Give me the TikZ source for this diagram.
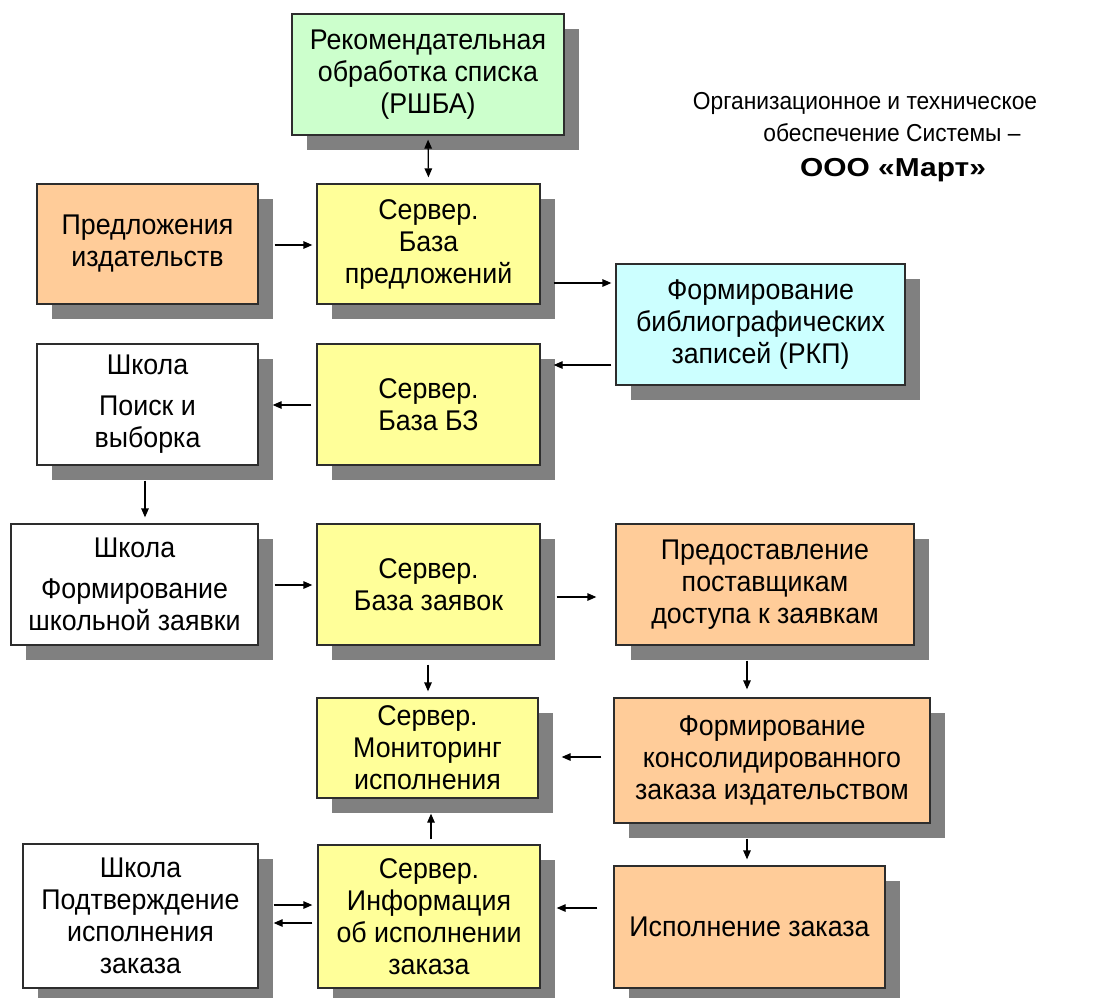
\documentclass[tikz,border=0pt]{standalone}
\usepackage{fontspec}
\setmainfont{Liberation Sans}
\newfontfamily\boxfont{Liberation Sans}[FakeStretch=0.94]
\newfontfamily\titlefont{Liberation Sans}[FakeStretch=0.93]
\newfontfamily\titleboldfont{Liberation Sans}[FakeStretch=1.15]
\usetikzlibrary{arrows.meta,shadows}

\definecolor{boxgreen}{RGB}{204,255,204}
\definecolor{boxorange}{RGB}{255,204,153}
\definecolor{boxyellow}{RGB}{255,255,153}
\definecolor{boxcyan}{RGB}{204,255,255}
\definecolor{shadowgray}{RGB}{128,128,128}
\definecolor{edgegray}{RGB}{45,45,45}

\begin{document}
\begin{tikzpicture}[x=1pt,y=-1pt,
  box/.style={draw=edgegray, line width=1.3pt, align=center, inner sep=0pt,
    font=\boxfont\fontsize{28.5}{32}\selectfont,
    drop shadow={shadow xshift=15pt, shadow yshift=-15pt, fill=shadowgray, opacity=1, draw=none}},
  arr/.style={line width=1.3pt, -{Triangle[length=9pt,width=7.5pt]}},
  darr/.style={line width=1.3pt, {Triangle[length=9pt,width=7.5pt]}-{Triangle[length=9pt,width=7.5pt]}},
  titletext/.style={inner sep=0pt, font=\titlefont\fontsize{24.5}{28}\selectfont},
]
\useasboundingbox (0,0) rectangle (1099,997);

% boxes
\node[box, fill=boxgreen, minimum width=272pt, minimum height=121pt] (rshba) at (428,74.5)
  {Рекомендательная\\обработка списка\\(РШБА)};
\node[box, fill=boxorange, minimum width=221pt, minimum height=120pt] (pred) at (147.5,244)
  {Предложения\\издательств};
\node[box, fill=boxyellow, minimum width=223pt, minimum height=120pt] (srv1) at (428.5,244)
  {Сервер.\\База\\предложений};
\node[box, fill=boxcyan, minimum width=289pt, minimum height=121pt] (bib) at (760.5,324.5)
  {Формирование\\библиографических\\записей (РКП)};
\node[box, fill=white, minimum width=221pt, minimum height=121pt] (sch1) at (147.5,404.5)
  {Школа\\[9pt]Поиск и\\выборка};
\node[box, fill=boxyellow, minimum width=223pt, minimum height=121pt] (srv2) at (428.5,404.5)
  {Сервер.\\База БЗ};
\node[box, fill=white, minimum width=247pt, minimum height=121pt] (sch2) at (134.5,584.5)
  {Школа\\[9pt]Формирование\\школьной заявки};
\node[box, fill=boxyellow, minimum width=223pt, minimum height=121pt] (srv3) at (428.5,584.5)
  {Сервер.\\База заявок};
\node[box, fill=boxorange, minimum width=298pt, minimum height=121pt] (prov) at (765,584.5)
  {Предоставление\\поставщикам\\доступа к заявкам};
\node[box, fill=boxyellow, minimum width=221pt, minimum height=100pt] (mon) at (427.5,748)
  {Сервер.\\Мониторинг\\исполнения};
\node[box, fill=boxorange, minimum width=316pt, minimum height=125pt] (cons) at (772,760.5)
  {Формирование\\консолидированного\\заказа издательством};
\node[box, fill=white, minimum width=235pt, minimum height=144pt] (sch3) at (140.5,916)
  {Школа\\Подтверждение\\исполнения\\заказа};
\node[box, fill=boxyellow, minimum width=222pt, minimum height=143pt] (srv4) at (429,916.5)
  {Сервер.\\Информация\\об исполнении\\заказа};
\node[box, fill=boxorange, minimum width=271pt, minimum height=122pt] (isp) at (749.5,927)
  {Исполнение заказа};

% title
\node[titletext] (t1) at (865,103) {Организационное и техническое};
\node[titletext] (t2) at (892,133) {обеспечение Системы –};
\node[titletext, font=\titleboldfont\fontsize{26}{30}\selectfont\bfseries] (t3) at (893,170) {ООО «Март»};

% connectors
\draw[darr, shorten <=4pt, shorten >=6pt] (rshba.south) -- (srv1.north);
\draw[arr, shorten <=16pt, shorten >=4pt] (pred.east |- 0,245) -- (srv1.west |- 0,245);
\draw[arr, shorten <=13pt, shorten >=4pt] (srv1.east |- 0,283) -- (bib.west |- 0,283);
\draw[arr, shorten <=4pt, shorten >=13pt] (bib.west |- 0,365) -- (srv2.east |- 0,365);
\draw[arr, shorten <=5pt, shorten >=14pt] (srv2.west |- 0,405) -- (sch1.east |- 0,405);
\draw[arr, shorten <=15pt, shorten >=6pt] (sch1.south -| 145,0) -- (sch2.north -| 145,0);
\draw[arr, shorten <=16pt, shorten >=4pt] (sch2.east |- 0,585) -- (srv3.west |- 0,585);
\draw[arr, shorten <=16pt, shorten >=19pt] (srv3.east |- 0,597) -- (prov.west |- 0,597);
\draw[arr, shorten <=19pt, shorten >=6pt] (srv3.south -| 428,0) -- (mon.north -| 428,0);
\draw[arr, shorten <=15pt, shorten >=8pt] (prov.south -| 747,0) -- (cons.north -| 747,0);
\draw[arr, shorten <=12pt, shorten >=23pt] (cons.west |- 0,757) -- (mon.east |- 0,757);
\draw[arr, shorten <=15pt, shorten >=6pt] (cons.south -| 747,0) -- (isp.north -| 747,0);
\draw[arr, shorten <=16pt, shorten >=16pt] (isp.west |- 0,908) -- (srv4.east |- 0,908);
\draw[arr, shorten <=5pt, shorten >=15pt] (srv4.north -| 431,0) -- (mon.south -| 431,0);
\draw[arr, shorten <=15pt, shorten >=5pt] (sch3.east |- 0,905) -- (srv4.west |- 0,905);
\draw[arr, shorten <=5pt, shorten >=15pt] (srv4.west |- 0,923) -- (sch3.east |- 0,923);
\end{tikzpicture}
\end{document}
